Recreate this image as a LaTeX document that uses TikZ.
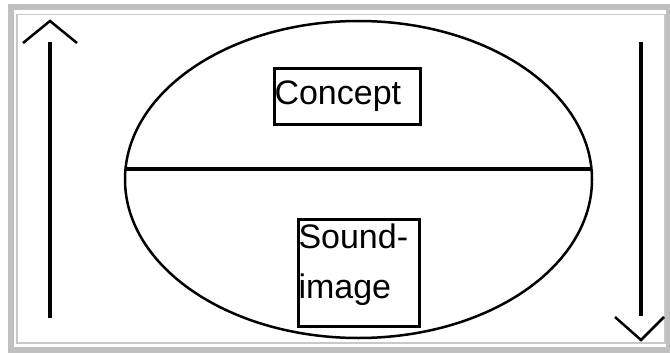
\documentclass[tikz,border=0pt]{standalone}
\usepackage{fontspec}
\setmainfont{Liberation Sans}
\usetikzlibrary{positioning}

\definecolor{framegray}{RGB}{192,192,192}
\definecolor{linegray}{RGB}{200,200,200}

\tikzset{
  labelbox/.style={draw, line width=3pt, inner sep=0pt, align=left,
    font=\fontsize{34}{50}\selectfont},
  shaft/.style={line width=4pt},
  barb/.style={line width=2.5pt}
}

\begin{document}
\begin{tikzpicture}[x=1pt,y=-1pt]
  \useasboundingbox (0,0) rectangle (670,353);
  % frame
  \draw[framegray, line width=6pt] (10.5,7) rectangle (669,350);
  \draw[linegray, line width=1.5pt] (17,14.5) rectangle (665,343);
  % the sign
  \coordinate (centre) at (358.5,179.5);
  \draw[line width=2.5pt] (centre) ellipse [x radius=233.5, y radius=158.5];
  \coordinate (divL) at (125.5,169);
  \coordinate (divR) at (591.5,169);
  \draw[line width=4pt] (divL) -- (divR);
  \node[labelbox, anchor=north west, minimum width=146pt, minimum height=56pt,
    text width=146pt] (concept) at (273,67) {Concept};
  \node[labelbox, anchor=north west, minimum width=121pt, minimum height=107pt,
    text width=121pt, text height=9pt] (sound) at (297,218) {Sound-\\image};
  % arrows
  \coordinate (upTip) at (50,21);
  \coordinate (upEnd) at (50,318);
  \coordinate (upBase) at (50,42);
  \draw[shaft] (upEnd) -- (upBase);
  \draw[barb] (23,43) -- (upTip) -- (77,43);
  \coordinate (downTip) at (641,340);
  \coordinate (downEnd) at (641,42);
  \coordinate (downBase) at (641,316);
  \draw[shaft] (downEnd) -- (downBase);
  \draw[barb] (615,317) -- (downTip) -- (664,317);
\end{tikzpicture}
\end{document}
